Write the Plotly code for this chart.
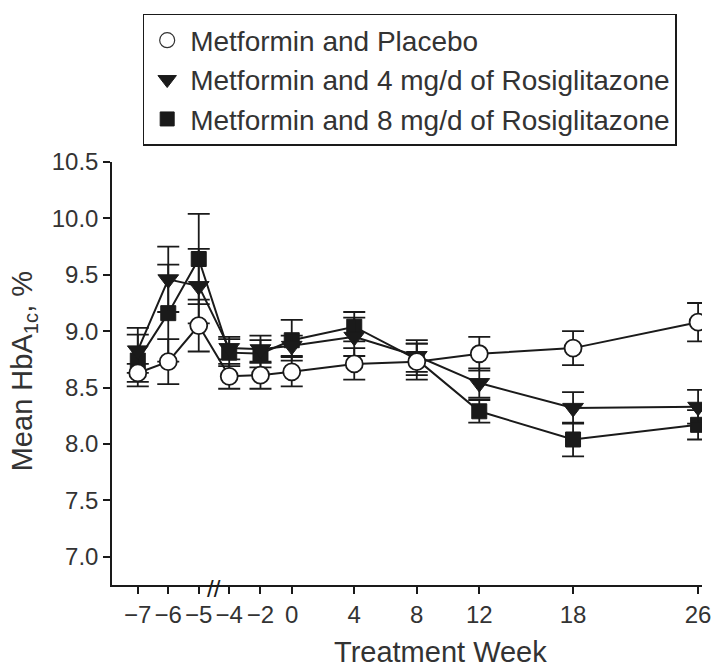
import plotly.graph_objects as go

# Treatment weeks and tick labels
weeks = [-7, -6, -5, -4, -2, 0, 4, 8, 12, 18, 26]
week_labels = ["\u22127", "\u22126", "\u22125", "\u22124", "\u22122", "0", "4", "8", "12", "18", "26"]

# Mean HbA1c (%) and standard errors per treatment group
placebo = [8.63, 8.73, 9.05, 8.60, 8.61, 8.64, 8.71, 8.73, 8.80, 8.85, 9.08]
placebo_se = [0.08, 0.20, 0.23, 0.11, 0.12, 0.13, 0.14, 0.16, 0.15, 0.15, 0.17]

rosi4 = [8.83, 9.46, 9.40, 8.85, 8.84, 8.87, 8.95, 8.78, 8.54, 8.32, 8.33]
rosi4_se = [0.20, 0.29, 0.33, 0.10, 0.12, 0.09, 0.17, 0.14, 0.13, 0.14, 0.15]

rosi8 = [8.74, 9.16, 9.64, 8.81, 8.80, 8.92, 9.04, 8.75, 8.29, 8.04, 8.17]
rosi8_se = [0.23, 0.43, 0.40, 0.12, 0.12, 0.18, 0.13, 0.14, 0.10, 0.15, 0.13]

series_names = [
    "Metformin and Placebo",
    "Metformin and 4 mg/d of Rosiglitazone",
    "Metformin and 8 mg/d of Rosiglitazone",
]

BREAK_WEEK = -4
PRE_BREAK_SCALE = 1.95


def axis_pos(w):
    """Run-in weeks (before the axis break) are stretched on the axis."""
    return w if w >= BREAK_WEEK else BREAK_WEEK + PRE_BREAK_SCALE * (w - BREAK_WEEK)


xpos = [axis_pos(w) for w in weeks]

INK = "#1a1a1a"
TEXT = "#333333"
FONT = "Liberation Sans"

fig = go.Figure()

styles = [
    dict(y=rosi8, se=rosi8_se, name=series_names[2],
         marker=dict(symbol="square", size=15, color=INK, line=dict(color=INK, width=1))),
    dict(y=rosi4, se=rosi4_se, name=series_names[1],
         marker=dict(symbol="triangle-down", size=18, color=INK, line=dict(color=INK, width=1))),
    dict(y=placebo, se=placebo_se, name=series_names[0],
         marker=dict(symbol="circle", size=17, color="white", line=dict(color=INK, width=1.8))),
]

for s in styles:
    fig.add_trace(go.Scatter(
        x=xpos, y=s["y"], mode="lines+markers", name=s["name"], showlegend=False,
        line=dict(color=INK, width=2),
        marker=s["marker"],
        error_y=dict(type="data", array=s["se"], visible=True, color=INK,
                     thickness=1.8, width=11),
    ))

# Legend entries show the marker only
legend_sizes = {"square": 14, "triangle-down": 16, "circle": 15}
for s in reversed(styles):
    m = dict(s["marker"])
    m["size"] = legend_sizes[m["symbol"]]
    if m["symbol"] == "circle":
        m["line"] = dict(color=TEXT, width=1.2)
    fig.add_trace(go.Scatter(x=[None], y=[None], mode="markers", name=s["name"],
                             marker=m, showlegend=True))

# Axis break mark between the run-in and treatment periods
fig.add_annotation(
    x=(axis_pos(-5) + axis_pos(-4)) / 2, y=0, xref="x", yref="paper",
    text="//", showarrow=False, font=dict(family=FONT, size=24, color=INK),
    xanchor="center", yanchor="middle", yshift=-3,
)

# Axis titles
fig.add_annotation(
    x=0.556, y=-0.158, xref="paper", yref="paper", text="Treatment Week",
    showarrow=False, font=dict(family=FONT, size=29, color=TEXT),
    xanchor="center", yanchor="middle",
)
fig.add_annotation(
    x=-0.1486, y=0.506, xref="paper", yref="paper", text="Mean HbA<sub>1c</sub>, %",
    textangle=-90, showarrow=False, font=dict(family=FONT, size=29, color=TEXT),
    xanchor="center", yanchor="middle",
)

fig.update_layout(
    width=723, height=668,
    margin=dict(l=112, r=12, t=162, b=83),
    paper_bgcolor="white", plot_bgcolor="white",
    font=dict(family=FONT, color=TEXT),
    legend=dict(
        x=0.052, y=1.35, xanchor="left", yanchor="top",
        bordercolor=INK, borderwidth=1.5, bgcolor="white",
        font=dict(family=FONT, size=28, color=TEXT),
        itemwidth=36, tracegroupgap=0,
    ),
    xaxis=dict(
        range=[-11.5, 26.25], tickmode="array", tickvals=xpos, ticktext=week_labels,
        showgrid=False, zeroline=False, showline=True, linecolor=INK, linewidth=1.5,
        ticks="outside", ticklen=7, tickwidth=1.5, tickcolor=INK,
        tickfont=dict(family=FONT, size=24, color=TEXT),
    ),
    yaxis=dict(
        range=[6.75, 10.5], tickmode="array",
        tickvals=[7.0, 7.5, 8.0, 8.5, 9.0, 9.5, 10.0, 10.5], tickformat=".1f",
        showgrid=False, zeroline=False, showline=True, linecolor=INK, linewidth=1.5,
        ticks="outside", ticklen=7, tickwidth=1.5, tickcolor=INK,
        tickfont=dict(family=FONT, size=24, color=TEXT),
    ),
)

fig.write_html("out.html")
